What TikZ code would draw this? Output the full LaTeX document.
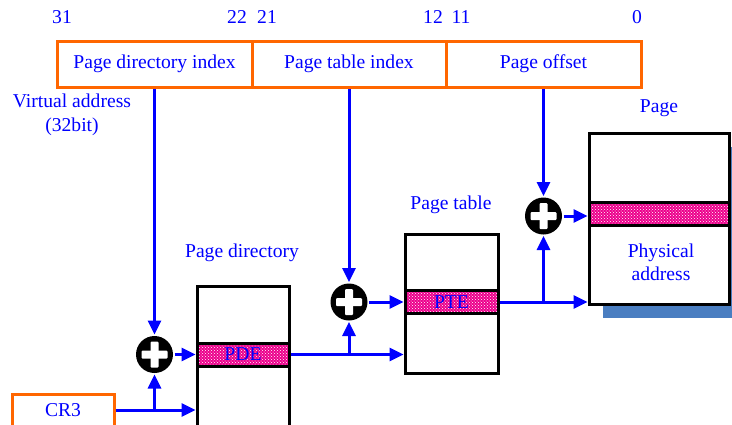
\documentclass[tikz,border=0pt]{standalone}
\usepackage{fontspec}
\setmainfont{Liberation Serif}
\usetikzlibrary{arrows.meta,patterns}
\definecolor{fieldorange}{RGB}{255,102,0}
\definecolor{shadowblue}{RGB}{74,126,193}
\begin{document}
\begin{tikzpicture}[
    x=1pt, y=-1pt,
    font=\fontsize{19.6}{23.5}\selectfont,
    line width=3pt,
    lbl/.style={text=blue, inner sep=0pt, align=center},
    fieldbox/.style={draw=fieldorange, fill=white, text=blue, minimum height=46pt, inner sep=0pt},
    tablebox/.style={draw=black, fill=white, inner sep=0pt},
    entrybox/.style={draw=black, preaction={fill=magenta}, pattern=crosshatch dots,
        pattern color=white, text=blue, minimum height=23pt, inner sep=0pt},
    adder/.style={circle, fill=black, minimum size=37pt, inner sep=0pt,
        path picture={
            \fill[white, rounded corners=1pt] (path picture bounding box.center)
                ++(-13pt,-4pt) rectangle ++(26pt,8pt);
            \fill[white, rounded corners=1pt] (path picture bounding box.center)
                ++(-4pt,-13pt) rectangle ++(8pt,26pt);
        }},
    link/.style={draw=blue, -{Triangle[length=14pt,width=13pt]}}
]
\clip (0,0) rectangle (732,424);

% Virtual address fields
\node[fieldbox, minimum width=195pt] (pdi) at (154.5,64) {Page directory index};
\node[fieldbox, minimum width=194pt] (pti) at (349,64) {Page table index};
\node[fieldbox, minimum width=195pt] (off) at (543.5,64) {Page offset};

\foreach \bx/\bn in {62/31, 237/22, 267/21, 433/12, 461/11, 637/0}
    \node[lbl] (bit\bn) at (\bx,17) {\bn};

\node[lbl] (va) at (72,115) {Virtual address\\(32bit)};

% CR3
\node[fieldbox, minimum width=102pt, minimum height=32pt] (cr3) at (63,410) {CR3};

% Page directory
\node[lbl] (pdlabel) at (242,253) {Page directory};
\node[tablebox, anchor=north, minimum width=92pt, minimum height=170pt] (pd) at (243,285) {};
\node[entrybox, minimum width=92pt] (pde) at (243,354.5) {PDE};

% Page table
\node[lbl] (ptlabel) at (451,205) {Page table};
\node[tablebox, minimum width=93pt, minimum height=139pt] (pt) at (451.5,303.5) {};
\node[entrybox, minimum width=93pt] (pte) at (451.5,302) {PTE};

% Page
\node[lbl] (pglabel) at (659,108) {Page};
\fill[shadowblue] (603,147) rectangle (745,318);
\node[tablebox, minimum width=140pt, minimum height=171pt] (pg) at (659,218.5) {};
\node[entrybox, minimum width=140pt] (pgent) at (659,214) {};
\node[lbl] (phys) at (661,262.5) {Physical\\address};

% Adders
\node[adder] (add1) at (154.5,354.5) {};
\node[adder] (add2) at (349,302) {};
\node[adder] (add3) at (543.5,216) {};

% Connections
\draw[link] (pdi.south) -- (add1.north);
\draw[link] (pti.south) -- (add2.north);
\draw[link] (off.south) -- (add3.north);

\draw[link] (cr3.east) -- (cr3.east -| pd.west);
\draw[link] (cr3.east -| add1) -- (add1.south);
\draw[link] (add1) -- (pde.west);

\draw[link] (pde.east) -- (pde.east -| pt.west);
\draw[link] (pde.east -| add2) -- (add2.south);
\draw[link] (add2) -- (pte.west);

\draw[link] (pte.east) -- (pte.east -| pg.west);
\draw[link] (pte.east -| add3) -- (add3.south);
\draw[link] (add3) -- (add3 -| pgent.west);

\end{tikzpicture}
\end{document}
